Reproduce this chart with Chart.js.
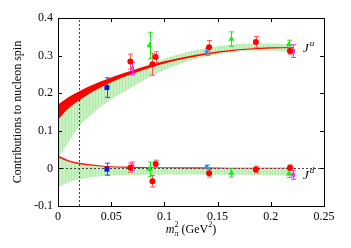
<!DOCTYPE html>
<html>
<head>
<meta charset="utf-8">
<script src="https://cdn.jsdelivr.net/npm/chart.js@4.4.1/dist/chart.umd.min.js"></script>
<style>
  body { margin: 0; background: #fff; }
  canvas { display: block; }
</style>
</head>
<body>
<canvas id="spinChart" width="351" height="248"></canvas>
<script>
// eixos
const xTickLabels = ['0', '0.05', '0.1', '0.15', '0.2', '0.25'];
const yTickLabels = ['-0.1', '0', '0.1', '0.2', '0.3', '0.4'];
const mPhys = 0.0195;

// bandas dos ajustes (m_pi^2, limites superior e inferior)
const mBand = [0, 0.01, 0.02, 0.03, 0.04, 0.05, 0.06, 0.08, 0.1, 0.12, 0.14, 0.16, 0.18, 0.2, 0.222];
const juRedHi = [0.17, 0.19, 0.205, 0.219, 0.231, 0.242, 0.252, 0.27, 0.285, 0.297, 0.307, 0.314, 0.319, 0.322, 0.323];
const juRedLo = [0.13, 0.16, 0.181, 0.2, 0.215, 0.229, 0.241, 0.262, 0.279, 0.292, 0.303, 0.311, 0.316, 0.319, 0.320];
const juGreenHi = [0.15, 0.172, 0.193, 0.21, 0.225, 0.238, 0.25, 0.272, 0.292, 0.308, 0.32, 0.328, 0.332, 0.332, 0.328];
const juGreenLo = [0.025, 0.07, 0.112, 0.14, 0.163, 0.183, 0.2, 0.234, 0.262, 0.283, 0.298, 0.307, 0.313, 0.313, 0.308];
const jdRedHi = [0.034, 0.022, 0.015, 0.011, 0.008, 0.006, 0.005, 0.004, 0.003, 0.003, 0.003, 0.002, 0.002, 0.002, 0.002];
const jdRedLo = [0.029, 0.018, 0.011, 0.008, 0.005, 0.003, 0.002, 0.001, 0.001, 0.0, 0.0, 0.0, 0.0, 0.0, 0.0];
const jdGreenHi = [0.03, 0.022, 0.016, 0.011, 0.008, 0.006, 0.004, 0.002, 0.001, 0.0, 0.0, -0.001, -0.001, -0.002, -0.002];
const jdGreenLo = [-0.05, -0.037, -0.029, -0.024, -0.021, -0.019, -0.018, -0.017, -0.016, -0.016, -0.016, -0.017, -0.017, -0.018, -0.019];

// pontos da rede
const redM = [0.068, 0.0887, 0.0918, 0.142, 0.186, 0.218];
const redJu = [0.284, 0.277, 0.296, 0.322, 0.336, 0.312];
const redJuErr = [0.02, 0.029, 0.014, 0.018, 0.015, 0.008];
const redJd = [0.002, -0.034, 0.012, -0.013, -0.003, 0.002];
const redJdErr = [0.012, 0.015, 0.01, 0.01, 0.009, 0.007];

const blueM = [0.046];
const blueJu = [0.215];
const blueJuErr = [0.026];
const blueJd = [-0.002];
const blueJdErr = [0.016];

const lblueM = [0.1397];
const lblueJu = [0.310];
const lblueJuErr = [0.009];
const lblueJd = [0.004];
const lblueJdErr = [0.005];

const greenM = [0.086, 0.163, 0.217];
const greenJu = [0.327, 0.344, 0.330];
const greenJuErr = [0.035, 0.019, 0.011];
const greenJd = [-0.002, -0.012, -0.014];
const greenJdErr = [0.019, 0.011, 0.01];

const magM = [0.0696, 0.221];
const magJu = [0.265, 0.312];
const magJuErr = [0.016, 0.017];
const magJd = [0.006, -0.017];
const magJdErr = [0.011, 0.012];

const serif = '"Liberation Serif", "DejaVu Serif", serif';

function pts(xs, ys) {
    return xs.map((x, i) => ({ x: x, y: ys[i] }));
}

function stripes(a, b) {
    const c = document.createElement('canvas');
    c.width = 3; c.height = 1;
    const g = c.getContext('2d');
    g.fillStyle = a; g.fillRect(0, 0, 3, 1);
    g.fillStyle = b; g.fillRect(2, 0, 1, 1);
    return g.createPattern(c, 'repeat');
}
const greenFill = stripes('#c8f2c2', '#b0e9a9');

function pointSet(label, xs, ju, juErr, jd, jdErr, color, errColor, style, r) {
    return {
        label: label,
        data: pts(xs, ju).concat(pts(xs, jd)),
        errs: juErr.concat(jdErr),
        errColor: errColor,
        pointStyle: style,
        pointRadius: r,
        backgroundColor: color,
        borderColor: color,
        borderWidth: 0,
        showLine: false
    };
}

function band(lo, hi, fill) {
    const base = { showLine: true, pointRadius: 0, borderWidth: 0, cubicInterpolationMode: 'monotone' };
    return [
        Object.assign({ data: pts(mBand, lo), fill: false }, base),
        Object.assign({ data: pts(mBand, hi), fill: '-1', backgroundColor: fill }, base)
    ];
}

const datasets = [
    pointSet('red', redM, redJu, redJuErr, redJd, redJdErr, '#ff0000', '#ff5a5a', 'circle', 3),
    pointSet('magenta', magM, magJu, magJuErr, magJd, magJdErr, '#ff2cff', '#ff2cff', 'rect', 2.8),
    pointSet('green', greenM, greenJu, greenJuErr, greenJd, greenJdErr, '#1ee81e', '#1ee81e', 'triangle', 3.5),
    pointSet('lightblue', lblueM, lblueJu, lblueJuErr, lblueJd, lblueJdErr, '#2f8fff', '#2f8fff', 'rect', 2.5),
    pointSet('blue', blueM, blueJu, blueJuErr, blueJd, blueJdErr, '#0418e0', '#2a46ff', 'rect', 3.5)
].concat(
    band(juRedLo, juRedHi, '#ff0000'),
    band(jdRedLo, jdRedHi, '#ff1a1a'),
    band(juGreenLo, juGreenHi, greenFill),
    band(jdGreenLo, jdGreenHi, greenFill)
);
const lastPointSet = 4;

// barras de erro + linhas pontilhadas
const errorBars = {
    id: 'errorBars',
    beforeDatasetDraw(chart, args) {
        const ds = chart.data.datasets[args.index];
        const xs = chart.scales.x, ys = chart.scales.y;
        const c = chart.ctx;
        if (args.index === lastPointSet) {
            const a = chart.chartArea;
            c.save();
            c.strokeStyle = '#444';
            c.lineWidth = 1;
            c.setLineDash([2, 2]);
            const px = Math.round(xs.getPixelForValue(mPhys)) + 0.5;
            c.beginPath(); c.moveTo(px, a.bottom); c.lineTo(px, a.top); c.stroke();
            const py = Math.round(ys.getPixelForValue(0)) + 0.5;
            c.beginPath(); c.moveTo(a.left, py); c.lineTo(a.right, py); c.stroke();
            c.restore();
        }
        if (!ds.errs) return;
        c.save();
        c.strokeStyle = ds.errColor;
        c.lineWidth = 1;
        ds.data.forEach((p, i) => {
            const x = Math.round(xs.getPixelForValue(p.x)) + 0.5;
            const y1 = ys.getPixelForValue(p.y + ds.errs[i]);
            const y2 = ys.getPixelForValue(p.y - ds.errs[i]);
            c.beginPath();
            c.moveTo(x, y1); c.lineTo(x, y2);
            c.moveTo(x - 2.5, y1); c.lineTo(x + 2.5, y1);
            c.moveTo(x - 2.5, y2); c.lineTo(x + 2.5, y2);
            c.stroke();
        });
        c.restore();
    }
};

// moldura, ticks internos e textos
const frame = {
    id: 'frame',
    afterDraw(chart) {
        const c = chart.ctx, a = chart.chartArea;
        const xs = chart.scales.x, ys = chart.scales.y;
        c.save();
        c.strokeStyle = '#000';
        c.lineWidth = 1;
        c.beginPath();
        xs.ticks.forEach(t => {
            const x = Math.round(xs.getPixelForValue(t.value)) + 0.5;
            c.moveTo(x, a.bottom); c.lineTo(x, a.bottom - 4);
            c.moveTo(x, a.top); c.lineTo(x, a.top + 4);
        });
        ys.ticks.forEach(t => {
            const y = Math.round(ys.getPixelForValue(t.value)) + 0.5;
            c.moveTo(a.left, y); c.lineTo(a.left + 4, y);
            c.moveTo(a.right, y); c.lineTo(a.right - 4, y);
        });
        c.stroke();
        c.strokeRect(Math.round(a.left) + 0.5, Math.round(a.top) + 0.5,
            Math.round(a.right - a.left), Math.round(a.bottom - a.top));

        c.fillStyle = '#000';
        c.textBaseline = 'alphabetic';
        c.textAlign = 'left';

        // J^u e J^d
        [['u', 52], ['d', 179]].forEach(([s, base]) => {
            c.font = 'italic 13px ' + serif;
            c.fillText('J', 303, base);
            const w = c.measureText('J').width;
            c.font = 'italic 9px ' + serif;
            c.fillText(s, 303 + w + 1, base - 6);
        });

        // titulo do eixo x: m_pi^2 (GeV^2)
        const base = 233;
        c.font = 'italic 12px ' + serif;
        const wm = c.measureText('m').width;
        c.font = '12px ' + serif;
        const wg = c.measureText(' (GeV').width;
        const wp = c.measureText(')').width;
        c.font = '8px ' + serif;
        const w2 = c.measureText('2').width;
        c.font = 'italic 8px ' + serif;
        const wpi = c.measureText('\u03c0').width;
        const total = wm + Math.max(w2, wpi) + wg + w2 + wp;
        let x = (a.left + a.right) / 2 - total / 2;
        c.font = 'italic 12px ' + serif;
        c.fillText('m', x, base); x += wm;
        c.font = '8px ' + serif;
        c.fillText('2', x, base - 6);
        c.font = 'italic 8px ' + serif;
        c.fillText('\u03c0', x, base + 3);
        x += Math.max(w2, wpi);
        c.font = '12px ' + serif;
        c.fillText(' (GeV', x, base); x += wg;
        c.font = '8px ' + serif;
        c.fillText('2', x, base - 6); x += w2;
        c.font = '12px ' + serif;
        c.fillText(')', x, base);

        // titulo do eixo y
        c.translate(18, (a.top + a.bottom) / 2);
        c.rotate(-Math.PI / 2);
        c.textAlign = 'center';
        c.textBaseline = 'middle';
        c.font = '12px ' + serif;
        c.fillText('Contributions to nucleon spin', 0, 0);
        c.restore();
    }
};

const ctx = document.getElementById('spinChart').getContext('2d');
const spinChart = new Chart(ctx, {
    type: 'scatter',
    data: { datasets: datasets },
    options: {
        responsive: false,
        animation: false,
        layout: { padding: { top: 18, right: 27, left: 0, bottom: 0 } },
        plugins: {
            legend: { display: false },
            tooltip: { enabled: false }
        },
        scales: {
            x: {
                type: 'linear',
                min: 0,
                max: 0.25,
                grid: { display: false, drawTicks: false },
                border: { display: false },
                ticks: {
                    stepSize: 0.05,
                    padding: 4,
                    color: '#000',
                    font: { family: serif, size: 12 },
                    maxRotation: 0,
                    callback: (v, i) => xTickLabels[i]
                },
                afterFit: s => { s.height = 42; }
            },
            y: {
                min: -0.1,
                max: 0.4,
                grid: { display: false, drawTicks: false },
                border: { display: false },
                ticks: {
                    stepSize: 0.1,
                    padding: 5,
                    color: '#000',
                    font: { family: serif, size: 12 },
                    callback: (v, i) => yTickLabels[i]
                },
                afterFit: s => { s.width = 58; }
            }
        }
    },
    plugins: [errorBars, frame]
});
</script>
</body>
</html>
